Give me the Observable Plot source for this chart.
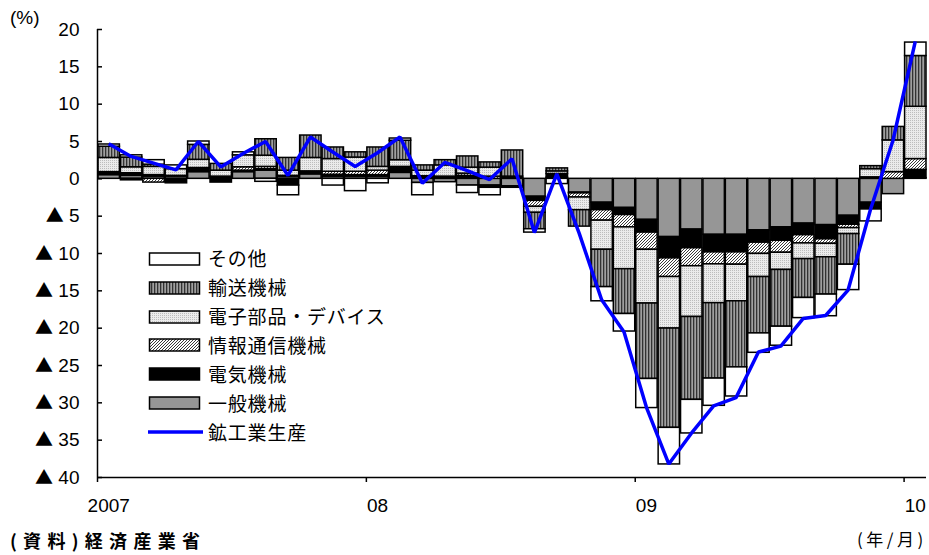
<!DOCTYPE html>
<html><head><meta charset="utf-8">
<script src="https://cdn.jsdelivr.net/npm/d3@7"></script>
<script src="https://cdn.jsdelivr.net/npm/@observablehq/plot@0.6"></script>
<style>
body{margin:0;background:#fff;}
#wrap{position:relative;width:929px;height:555px;overflow:hidden;font-family:"Liberation Sans","DejaVu Sans",sans-serif;color:#000;}
.abs{position:absolute;white-space:nowrap;line-height:1;}
.jp{font-family:"Noto Sans CJK JP","Noto Sans",sans-serif;}
</style></head><body>
<svg width="0" height="0" style="position:absolute">
  <defs>
    <pattern id="p-vs" width="3" height="4" patternUnits="userSpaceOnUse">
      <rect width="3" height="4" fill="#a0a0a0"/><rect width="1.3" height="4" fill="#333333"/>
    </pattern>
    <pattern id="p-dot" width="2" height="2" patternUnits="userSpaceOnUse">
      <rect width="2" height="2" fill="#ebebeb"/><rect width="1" height="1" fill="#bdbdbd"/>
    </pattern>
    <pattern id="p-hatch" width="3" height="3" patternUnits="userSpaceOnUse">
      <rect width="3" height="3" fill="#ffffff"/>
      <path d="M-1,1 L1,-1 M0,3 L3,0 M2,4 L4,2" stroke="#3a3a3a" stroke-width="1"/>
    </pattern>
  </defs>
</svg>
<div id="wrap"></div>
<script>
// ---- data ----
const months = [
  "2007-01","2007-02","2007-03","2007-04","2007-05","2007-06","2007-07","2007-08","2007-09","2007-10","2007-11","2007-12",
  "2008-01","2008-02","2008-03","2008-04","2008-05","2008-06","2008-07","2008-08","2008-09","2008-10","2008-11","2008-12",
  "2009-01","2009-02","2009-03","2009-04","2009-05","2009-06","2009-07","2009-08","2009-09","2009-10","2009-11","2009-12",
  "2010-01"
];
const xTickLabels = {"2007-01": "2007", "2008-01": "08", "2009-01": "09", "2010-01": "10"};
const series = ["一般機械", "電気機械", "情報通信機械", "電子部品・デバイス", "輸送機械", "その他"];
const lineName = "鉱工業生産";

const ippan = [0.5, 0.4, 0.3, 0.3, 0.9, 0.2, 0.9, 1.1, 0.3, 0.6,
  0.3, 0.3, 0.3, 0.8, -0.55, -0.45, -0.9, -0.9, -1.0, -2.4,
  0.15, -1.85, -3.2, -3.9, -5.5, -7.8, -6.8, -7.5, -7.5, -6.9,
  -6.5, -6.0, -6.2, -4.95, -3.2, -2.05, 0.1];
const denki = [0.3, 0.35, 0.2, -0.6, 0.45, -0.5, 0.2, 0.2, -0.9, 0.3,
  0.25, 0.2, 0.2, 0.7, 0.25, 0.2, 0.4, -0.3, -0.2, -0.55,
  0.5, -0.1, -1.0, -0.95, -1.7, -2.85, -2.5, -2.35, -2.35, -1.65,
  -1.8, -1.55, -1.9, -1.2, -0.9, 0.0, 1.1];
const joho = [0.1, -0.2, -0.5, 0.1, 0.1, 0.1, 0.45, 0.3, 0.1, 0.1,
  0.4, 0.45, 0.6, 0.1, 0.1, 0.1, 0.3, 0.3, 0.1, -0.8,
  0.0, -0.55, -1.4, -1.65, -2.3, -2.5, -2.4, -1.6, -1.65, -1.5,
  -1.6, -1.1, -0.6, -0.45, 0.2, 0.9, 1.45];
const denshi = [1.9, 0.8, 1.1, 0.9, 1.1, 0.8, 1.6, 1.5, 0.7, 1.8,
  1.7, 1.9, 0.5, 0.9, 0.75, 1.5, 0.8, 1.2, 0.2, -0.8,
  0.35, -1.7, -3.9, -5.6, -7.2, -6.9, -6.8, -5.2, -4.9, -3.1,
  -2.3, -2.1, -1.8, -0.8, 1.1, 4.25, 7.0];
const yuso = [1.5, 1.3, 0.3, 0.0, 2.0, 0.9, 0.0, 2.2, 1.7, 3.0,
  1.55, 0.7, 2.6, 2.6, 0.7, 0.7, 1.5, 0.7, 3.5, -2.2,
  0.4, -2.2, -5.0, -6.0, -10.1, -13.3, -11.1, -10.1, -8.85, -7.55,
  -7.6, -5.2, -5.0, -4.1, 0.4, 1.8, 6.8];
const sonota = [0.3, 0.3, 0.6, 0.5, 0.45, 0.0, 0.4, -0.4, -1.3, 0.0,
  -0.9, -1.65, -0.6, 0.3, -1.65, 0.0, -1.0, -1.0, 0.0, -0.45,
  -0.7, 0.0, -1.9, -2.35, -3.9, -4.9, -4.5, -3.65, -3.9, -2.6,
  -2.55, -2.7, -2.9, -3.4, -1.6, 0.0, 1.8];
const kokogyo = [4.7, 3.0, 2.1, 1.2, 5.0, 1.6, 3.4, 5.0, 0.45, 5.6,
  3.6, 1.65, 3.5, 5.6, -0.6, 2.2, 1.1, -0.1, 2.7, -7.2,
  0.65, -7.3, -16.2, -20.5, -30.6, -38.2, -34.1, -30.4, -29.3, -23.2,
  -22.4, -18.7, -18.3, -14.9, -4.1, 5.1, 18.4];
const yTicks = [-40, -35, -30, -25, -20, -15, -10, -5, 0, 5, 10, 15, 20];

// ---- styles ----
const fills = ["#969696", "#000000", "url(#p-hatch)", "url(#p-dot)", "url(#p-vs)", "#ffffff"];

// ---- build tables ----
const bySeries = [ippan, denki, joho, denshi, yuso, sonota];
const rows = [];
months.forEach((m, i) => series.forEach((s, j) => rows.push({i, month: m, series: s, value: bySeries[j][i]})));
const lineRows = months.map((m, i) => ({x: i + 0.5, v: kokogyo[i]}));
const janIdx = months.map((m, i) => (m in xTickLabels ? i : null)).filter(d => d !== null);

const fmtY = d => (d < 0 ? "▲ " + (-d) : String(d));

const chart = Plot.plot({
  width: 929, height: 555,
  marginLeft: 97, marginRight: 3, marginTop: 29, marginBottom: 78,
  style: {fontFamily: '"Liberation Sans","DejaVu Sans",sans-serif', fontSize: "19px", color: "#000", background: "transparent"},
  x: {type: "linear", domain: [0, months.length], axis: null},
  y: {domain: [-40, 20], axis: null},
  color: {type: "ordinal", domain: series, range: fills},
  marks: [
    Plot.rectY(rows, {x: "i", interval: 1, y: "value", fill: "series", stroke: "#000", strokeWidth: 1.5}),
    Plot.line(lineRows, {x: "x", y: "v", stroke: "#0000ff", strokeWidth: 3.5, strokeLinejoin: "miter", strokeLinecap: "butt"}),
    Plot.ruleX([0], {strokeWidth: 1.5}),
    Plot.ruleY([-40], {strokeWidth: 1.5}),
    Plot.axisY({ticks: yTicks, tickSize: -5, tickPadding: 23, tickFormat: fmtY, strokeWidth: 1.5}),
    Plot.axisX({ticks: janIdx, tickSize: 5, tickFormat: () => "", strokeWidth: 1.5}),
    Plot.axisX({ticks: janIdx.map(d => d + 0.5), tickSize: 0, tickPadding: 21, tickFormat: d => xTickLabels[months[Math.round(d - 0.5)]]})
  ]
});

// render the ▲ sign of the y tick labels in a full-width CJK glyph
d3.select(chart).selectAll("text").each(function () {
  const t = this.textContent;
  if (t.startsWith("▲")) {
    const el = d3.select(this);
    el.text(null);
    el.append("tspan").attr("font-family", '"Noto Sans CJK JP"').attr("font-size", "18px").text("▲");
    el.append("tspan").text(t.slice(1));
  }
});

const wrap = document.getElementById("wrap");
wrap.appendChild(chart);

function addText(txt, css, cls) {
  const d = document.createElement("div");
  d.className = "abs " + (cls || "");
  d.textContent = txt;
  Object.assign(d.style, css);
  wrap.appendChild(d);
  return d;
}
addText("(%)", {left: "10px", top: "8px", fontSize: "19px"});
addText("(年/月)", {left: "857px", top: "530px", fontSize: "17px", letterSpacing: "3.5px"}, "jp");
addText("(資料)経済産業省", {left: "10px", top: "531px", fontSize: "18px", fontWeight: "bold", letterSpacing: "6.3px", lineHeight: "18px"}, "jp");

// legend (inside plot area)
const legendOrder = series.slice().reverse();
const legTop = 258.7, legStep = 28.9;
legendOrder.forEach((s, k) => {
  const cy = legTop + k * legStep;
  const sw = document.createElementNS("http://www.w3.org/2000/svg", "svg");
  sw.setAttribute("width", 54); sw.setAttribute("height", 16);
  sw.style.position = "absolute"; sw.style.left = "148px"; sw.style.top = (cy - 8) + "px";
  const r = document.createElementNS("http://www.w3.org/2000/svg", "rect");
  r.setAttribute("x", 1.5); r.setAttribute("y", 2); r.setAttribute("width", 50); r.setAttribute("height", 12);
  r.setAttribute("fill", fills[series.indexOf(s)]); r.setAttribute("stroke", "#000"); r.setAttribute("stroke-width", 1.5);
  sw.appendChild(r);
  wrap.appendChild(sw);
  addText(s, {left: "208px", top: (cy - 10.5) + "px", fontSize: "19px", letterSpacing: "0.8px"}, "jp");
});
{
  const cy = legTop + legendOrder.length * legStep;
  const sw = document.createElementNS("http://www.w3.org/2000/svg", "svg");
  sw.setAttribute("width", 58); sw.setAttribute("height", 8);
  sw.style.position = "absolute"; sw.style.left = "147px"; sw.style.top = (cy - 4) + "px";
  const l = document.createElementNS("http://www.w3.org/2000/svg", "line");
  l.setAttribute("x1", 1); l.setAttribute("x2", 56); l.setAttribute("y1", 4); l.setAttribute("y2", 4);
  l.setAttribute("stroke", "#0000ff"); l.setAttribute("stroke-width", 3.5);
  sw.appendChild(l);
  wrap.appendChild(sw);
  addText(lineName, {left: "208px", top: (cy - 10.5) + "px", fontSize: "19px", letterSpacing: "0.8px"}, "jp");
}
</script>
</body></html>
